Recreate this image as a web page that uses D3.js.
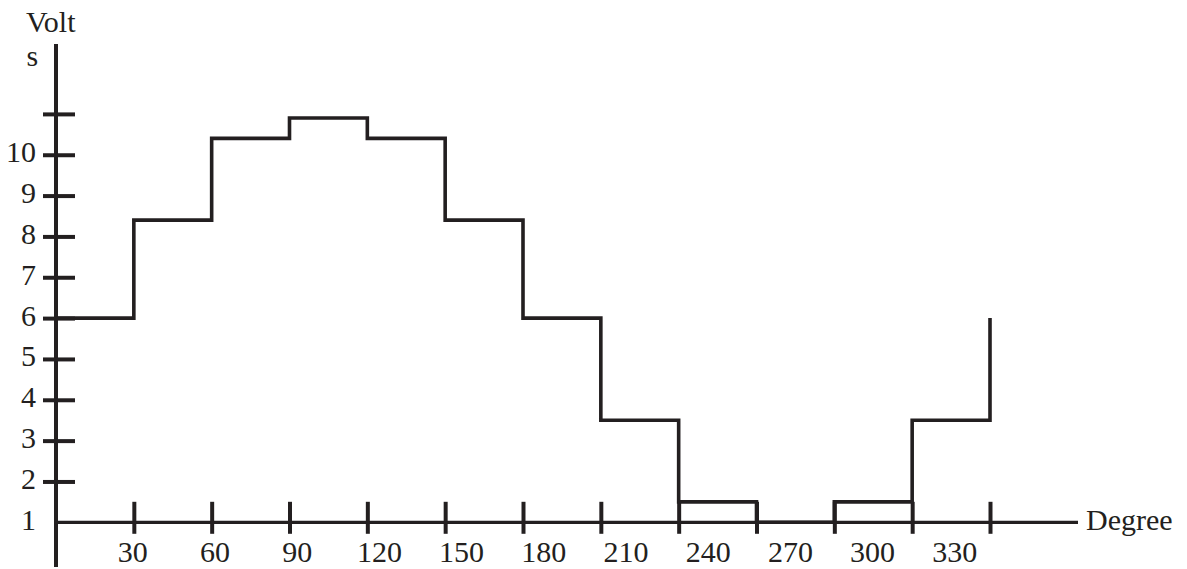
<!DOCTYPE html>
<html>
<head>
<meta charset="utf-8">
<script src="https://cdn.jsdelivr.net/npm/d3@7"></script>
<style>
  html, body { margin: 0; padding: 0; background: #ffffff; }
  svg { display: block; }
  text { font-family: "Liberation Serif", "Times New Roman", serif; fill: #231f20; }
</style>
</head>
<body>
<svg id="chart" width="1187" height="569"></svg>
<script>
// Step voltage waveform over one revolution (degrees)
const degrees = [0, 30, 60, 90, 120, 150, 180, 210, 240, 270, 300, 330, 360];
const volts   = [6, 8.4, 10.4, 10.9, 10.4, 8.4, 6, 3.5, 1.5, 1, 1.5, 3.5, 6];

// Axis ticks and labels
const xTickValues  = [30, 60, 90, 120, 150, 180, 210, 240, 270, 300, 330, 360];
const xLabelValues = [30, 60, 90, 120, 150, 180, 210, 240, 270, 300, 330];
const yTickValues  = [2, 3, 4, 5, 6, 7, 8, 9, 10, 11];
const yLabelValues = [1, 2, 3, 4, 5, 6, 7, 8, 9, 10];

const ink = "#231f20";
const svg = d3.select("#chart");

// Scales
const x = d3.scaleLinear().domain([0, 360]).range([56, 990]);
// Degree labels are set on a slightly wider spacing than the tick marks
const xLabel = d3.scaleLinear().domain([0, 360]).range([50.1, 1036.5]);
const y = d3.scaleLinear().domain([1, 11]).range([522.3, 113.9]);

const x0 = x(0), y0 = y(1);

// Vertical axis line (extends above the top tick and below the baseline)
svg.append("line")
  .attr("x1", x0).attr("x2", x0)
  .attr("y1", 44).attr("y2", 567)
  .attr("stroke", ink).attr("stroke-width", 4);

// Horizontal axis line
svg.append("line")
  .attr("x1", x0).attr("x2", 1078)
  .attr("y1", y0).attr("y2", y0)
  .attr("stroke", ink).attr("stroke-width", 3.2);

// Y tick marks (cross the axis)
const yTicks = svg.append("g")
  .attr("transform", `translate(${x0},0)`)
  .call(d3.axisLeft(y).tickValues(yTickValues).tickFormat("").tickSizeOuter(0));
yTicks.select(".domain").remove();
yTicks.selectAll(".tick line")
  .attr("x1", 19).attr("x2", -13)
  .attr("stroke", ink).attr("stroke-width", 4);

// Y labels
const yLabels = svg.append("g")
  .attr("transform", `translate(36,0)`)
  .call(d3.axisLeft(y).tickValues(yLabelValues).tickSize(0).tickPadding(0));
yLabels.select(".domain").remove();
yLabels.selectAll(".tick text")
  .attr("x", 0).attr("dy", 7)
  .style("font-size", "30px")
  .style("font-family", "'Liberation Serif', serif")
  .attr("fill", ink)
  .attr("text-anchor", "end");

// X tick marks (cross the axis)
const xTicks = svg.append("g")
  .attr("transform", `translate(0,${y0})`)
  .call(d3.axisBottom(x).tickValues(xTickValues).tickFormat("").tickSizeOuter(0));
xTicks.select(".domain").remove();
xTicks.selectAll(".tick line")
  .attr("y1", -20.5).attr("y2", 11.5)
  .attr("stroke", ink).attr("stroke-width", 4);

// X labels
const xLabels = svg.append("g")
  .attr("transform", `translate(0,562)`)
  .call(d3.axisBottom(xLabel).tickValues(xLabelValues).tickSize(0).tickPadding(0));
xLabels.select(".domain").remove();
xLabels.selectAll(".tick text")
  .attr("y", 0).attr("dy", 0)
  .style("font-size", "30px")
  .style("font-family", "'Liberation Serif', serif")
  .attr("fill", ink);

// Axis titles
svg.append("text").attr("x", 26).attr("y", 32)
  .style("font-size", "30px").text("Volt");
svg.append("text").attr("x", 26.5).attr("y", 66)
  .style("font-size", "30px").text("s");
svg.append("text").attr("x", 1086).attr("y", 530)
  .style("font-size", "30px").text("Degree");

// Step waveform
const line = d3.line()
  .x((d, i) => x(degrees[i]))
  .y(d => y(d))
  .curve(d3.curveStepAfter);

svg.append("path")
  .datum(volts)
  .attr("d", line)
  .attr("fill", "none")
  .attr("stroke", ink)
  .attr("stroke-width", 3.6)
  .attr("stroke-linejoin", "miter")
  .attr("stroke-linecap", "butt");
</script>
</body>
</html>
